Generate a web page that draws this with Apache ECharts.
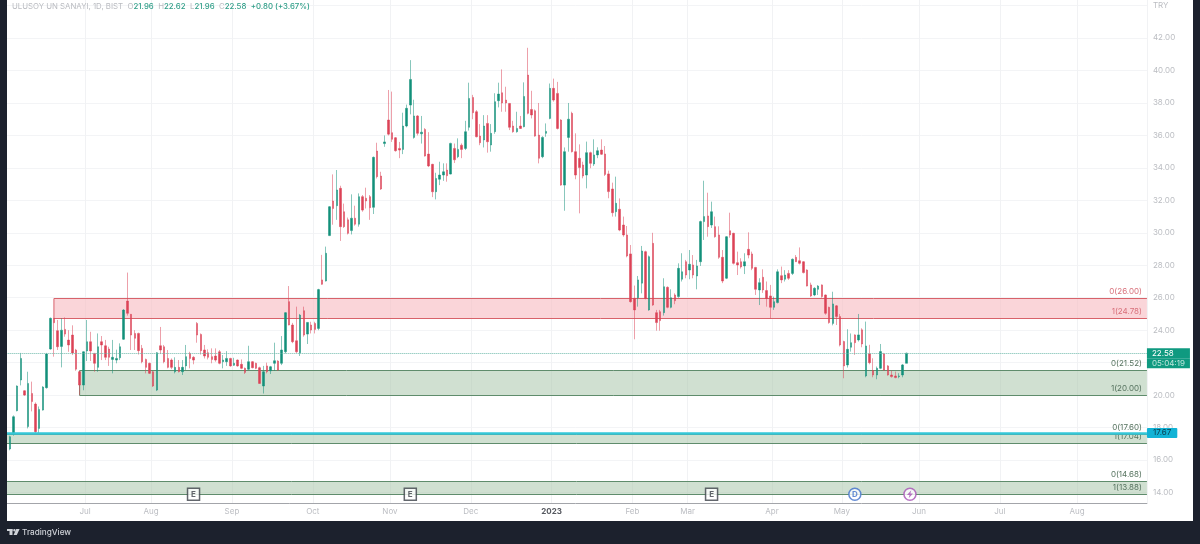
<!DOCTYPE html>
<html>
<head>
<meta charset="utf-8">
<title>ULUSOY UN SANAYI</title>
<script src="https://cdn.jsdelivr.net/npm/echarts@6/dist/echarts.min.js"></script>
<style>
  html, body { margin: 0; padding: 0; background: #1c212d; }
  #panel { position: absolute; left: 7px; top: 0; width: 1186px; height: 521px; background: #fff; }
  #chart { position: absolute; left: 0; top: 0; width: 1200px; height: 544px; filter: blur(0.3px); }
</style>
</head>
<body>
<div id="panel"></div>
<div id="chart"></div>
<script>
// daily bars, ten per line
const opens = [
  16.68, 17.6, 19.04, 20.93, 20.27, 18.06, 20.1, 19.45, 17.95, 19.08,
  20.46, 22.84, 24.73, 23.97, 23.0, 24.05, 23.39, 23.7, 22.78, 21.44,
  20.62, 22.72, 23.29, 22.57, 21.71, 23.29, 23.04, 22.84, 22.2, 22.16,
  22.3, 23.44, 25.8, 24.98, 23.8, 23.8, 22.88, 22.2, 21.96, 21.44,
  20.31, 23.04, 22.98, 22.26, 22.16, 21.44, 21.71, 21.44, 21.8, 22.57,
  22.33, 24.42, 23.74, 22.78, 22.61, 22.37, 22.41, 22.67, 22.06, 22.06,
  22.26, 21.84, 22.16, 21.9, 21.65, 21.59, 22.06, 21.96, 21.69, 20.56,
  21.8, 21.5, 21.96, 22.1, 21.96, 22.67, 25.76, 24.32, 23.35, 22.61,
  25.2, 23.76, 24.32, 24.42, 24.11, 27.1, 27.03, 29.83, 31.96, 31.67,
  32.74, 31.3, 30.8, 30.14, 30.9, 30.53, 32.23, 32.13, 32.23, 31.57,
  35.04, 33.5, 35.5, 36.95, 36.17, 35.86, 35.2, 35.14, 36.58, 37.87,
  35.88, 37.2, 36.1, 36.37, 34.85, 34.22, 32.53, 33.3, 33.56, 33.87,
  33.62, 35.2, 34.69, 35.4, 35.2, 36.5, 38.34, 37.46, 35.96, 35.72,
  36.74, 35.41, 36.23, 38.14, 38.63, 38.18, 37.97, 36.58, 36.23, 36.58,
  36.54, 39.72, 37.6, 37.52, 36.02, 34.69, 36.13, 37.05, 38.9, 38.59,
  36.95, 32.94, 35.88, 37.36, 35.0, 34.59, 34.18, 33.56, 34.94, 34.24,
  34.8, 35.1, 34.86, 33.63, 32.7, 31.3, 31.45, 30.48, 29.87, 28.7,
  25.96, 26.0, 26.9, 28.84, 25.25, 29.35, 25.08, 25.14, 25.08, 26.64,
  25.41, 26.17, 26.07, 27.14, 28.22, 27.71, 28.02, 27.34, 28.22, 30.69,
  31.04, 30.48, 30.38, 29.87, 28.49, 27.2, 30.13, 29.97, 28.16, 28.22,
  27.96, 28.98, 28.7, 27.87, 26.48, 27.26, 26.44, 26.11, 25.41, 25.7,
  27.36, 27.14, 27.5, 27.5, 28.49, 28.28, 28.22, 27.71, 26.79, 26.17,
  26.52, 26.79, 26.17, 25.41, 24.42, 25.5, 24.84, 23.3, 21.86, 22.95,
  23.71, 23.4, 24.02, 21.18, 22.54, 21.51, 21.24, 21.65, 22.54, 21.8,
  21.24, 21.18, 21.14, 21.24, 21.96
];
const closes = [
  17.44, 18.67, 20.56, 22.26, 20.0, 20.72, 19.6, 17.75, 19.12, 20.5,
  22.53, 24.73, 24.46, 22.98, 24.0, 23.76, 23.09, 22.6, 21.6, 20.62,
  22.67, 23.29, 22.72, 21.96, 22.98, 23.09, 22.33, 22.33, 22.33, 22.26,
  22.98, 25.24, 25.04, 23.7, 23.5, 22.74, 22.06, 21.71, 21.34, 20.56,
  22.61, 22.78, 22.06, 21.71, 21.71, 21.71, 21.44, 21.71, 22.37, 22.26,
  22.16, 23.7, 22.74, 22.41, 22.33, 22.2, 22.16, 21.96, 22.16, 22.26,
  21.8, 21.96, 21.8, 21.65, 21.4, 22.06, 21.69, 21.65, 20.72, 21.44,
  21.44, 21.75, 22.12, 21.55, 22.78, 25.08, 24.32, 23.29, 22.67, 24.93,
  23.7, 24.48, 24.01, 24.05, 26.5, 26.83, 28.74, 31.61, 31.5, 32.64,
  30.38, 30.38, 29.97, 30.9, 30.53, 32.23, 31.4, 31.96, 31.55, 34.65,
  33.46, 32.7, 35.6, 36.08, 35.76, 35.06, 35.1, 36.58, 37.67, 39.45,
  37.2, 36.13, 36.2, 34.73, 34.12, 32.53, 33.35, 33.56, 33.76, 33.52,
  35.51, 34.5, 35.14, 35.14, 36.23, 38.28, 37.4, 35.92, 35.55, 36.58,
  35.61, 36.13, 38.08, 38.55, 38.0, 38.0, 36.5, 36.23, 36.43, 36.43,
  38.4, 37.36, 37.26, 35.96, 34.59, 35.88, 36.25, 38.9, 38.18, 36.43,
  32.94, 35.0, 37.0, 35.0, 33.56, 34.02, 33.5, 34.94, 34.28, 34.8,
  35.06, 34.84, 33.6, 32.54, 31.24, 31.82, 30.17, 29.87, 28.57, 25.76,
  25.25, 27.1, 28.88, 25.96, 28.53, 25.55, 24.47, 24.59, 26.68, 25.41,
  26.0, 25.82, 27.81, 27.6, 27.4, 28.06, 27.4, 27.96, 30.69, 31.0,
  30.38, 31.3, 29.76, 28.49, 27.03, 29.76, 29.87, 28.12, 28.02, 27.9,
  28.22, 28.63, 27.81, 26.52, 26.93, 26.48, 25.96, 25.41, 25.76, 27.6,
  27.1, 27.4, 27.2, 28.37, 28.22, 28.12, 27.55, 26.72, 26.11, 26.58,
  26.72, 26.07, 25.04, 24.47, 25.62, 24.84, 23.09, 21.8, 22.82, 23.23,
  23.23, 23.71, 23.15, 23.03, 22.0, 21.24, 21.65, 22.68, 21.55, 21.24,
  21.14, 21.08, 21.18, 21.86, 22.58
];
const lows = [
  16.6, 17.5, 19.0, 20.6, 19.95, 17.95, 19.0, 17.65, 17.65, 19.05,
  20.4, 22.8, 22.37, 22.78, 21.71, 23.6, 22.67, 22.47, 21.5, 20.0,
  20.3, 22.1, 22.1, 21.44, 21.44, 22.16, 22.16, 21.8, 21.34, 21.96,
  22.16, 23.4, 24.9, 22.78, 22.78, 22.5, 21.96, 21.34, 21.3, 20.5,
  20.25, 22.53, 21.96, 21.65, 21.6, 21.34, 21.4, 21.24, 21.55, 21.65,
  21.9, 23.23, 22.5, 22.26, 22.2, 21.96, 22.06, 21.9, 21.65, 21.8,
  21.75, 21.8, 21.75, 21.6, 21.3, 21.55, 21.65, 21.6, 20.7, 20.1,
  21.34, 21.3, 21.5, 21.5, 21.85, 22.57, 24.3, 23.2, 22.6, 22.41,
  23.6, 23.15, 23.8, 23.8, 24.0, 26.8, 27.0, 29.8, 30.5, 30.8,
  29.5, 30.3, 29.9, 29.9, 30.44, 30.38, 31.3, 31.5, 30.8, 31.16,
  33.35, 32.64, 35.3, 36.0, 35.6, 35.0, 34.6, 34.85, 36.5, 37.3,
  35.8, 36.0, 35.5, 34.7, 34.05, 32.2, 32.06, 32.94, 33.2, 33.15,
  33.6, 34.3, 34.6, 34.6, 35.1, 36.3, 37.0, 35.88, 35.4, 35.26,
  34.94, 35.0, 36.1, 37.73, 37.46, 37.46, 36.33, 36.17, 36.17, 36.4,
  36.5, 37.3, 37.05, 35.92, 34.28, 34.6, 35.92, 37.0, 38.08, 36.37,
  32.9, 31.36, 35.0, 34.95, 33.3, 31.2, 33.36, 32.74, 33.98, 34.12,
  34.6, 34.8, 33.5, 32.13, 31.0, 31.0, 30.1, 29.76, 28.49, 25.7,
  23.44, 25.45, 26.27, 25.9, 25.2, 25.5, 23.97, 23.97, 24.9, 25.35,
  25.35, 25.6, 26.0, 27.0, 27.2, 27.14, 27.2, 26.52, 27.96, 29.56,
  29.76, 30.3, 29.7, 28.4, 26.9, 27.15, 29.7, 28.05, 27.4, 27.8,
  27.46, 28.43, 27.7, 26.17, 25.55, 26.3, 25.45, 24.73, 25.25, 25.65,
  26.9, 27.0, 27.1, 27.4, 28.2, 28.05, 27.5, 26.7, 26.05, 26.1,
  26.17, 26.0, 24.95, 24.4, 24.3, 24.32, 23.0, 21.04, 21.7, 22.68,
  22.48, 23.3, 22.95, 21.1, 21.9, 21.1, 20.98, 21.6, 21.5, 21.2,
  21.08, 21.04, 21.04, 21.1, 21.96
];
const highs = [
  17.5, 18.75, 20.6, 22.6, 20.3, 21.44, 20.83, 19.55, 19.3, 20.55,
  22.6, 24.78, 24.75, 24.63, 24.73, 24.79, 24.0, 24.3, 22.85, 21.5,
  22.7, 24.63, 23.9, 22.6, 23.8, 23.64, 23.4, 22.98, 23.4, 22.8,
  23.19, 25.3, 27.55, 25.0, 24.0, 23.85, 23.09, 22.25, 22.0, 21.5,
  22.65, 24.2, 23.09, 22.78, 22.26, 22.33, 22.16, 22.16, 23.09, 22.67,
  22.4, 24.5, 23.8, 23.09, 22.82, 22.88, 22.88, 22.78, 22.47, 22.71,
  22.3, 22.3, 22.2, 22.2, 21.7, 23.04, 22.1, 22.0, 21.75, 21.8,
  22.0, 21.8, 23.23, 22.15, 23.64, 25.12, 26.72, 24.45, 25.45, 25.0,
  25.45, 24.5, 24.52, 24.52, 26.55, 28.64, 29.15, 31.65, 33.6, 33.87,
  32.9, 31.8, 30.94, 32.37, 31.67, 32.43, 32.33, 32.78, 32.33, 34.7,
  35.55, 33.76, 36.0, 38.8, 38.7, 35.9, 35.6, 37.4, 37.9, 40.64,
  38.2, 37.25, 37.2, 36.45, 36.2, 34.25, 33.7, 34.38, 34.28, 34.28,
  35.55, 35.5, 35.82, 35.51, 36.9, 39.25, 38.5, 37.56, 36.7, 37.25,
  37.25, 36.7, 38.6, 39.25, 40.07, 39.0, 38.0, 36.9, 37.46, 37.2,
  39.27, 41.4, 38.75, 37.6, 38.0, 35.95, 36.74, 39.2, 39.5, 39.3,
  37.0, 35.26, 38.0, 37.46, 36.13, 35.45, 34.38, 35.62, 35.0, 35.76,
  35.27, 35.76, 35.35, 33.83, 33.09, 33.46, 32.12, 31.0, 30.42, 29.25,
  26.75, 27.34, 29.19, 28.9, 28.6, 30.0, 25.25, 25.25, 27.2, 26.7,
  26.52, 26.27, 28.12, 28.74, 28.33, 28.94, 28.63, 28.33, 30.75, 33.21,
  32.47, 31.92, 31.0, 30.4, 28.94, 29.8, 31.24, 30.0, 28.84, 28.43,
  28.74, 30.03, 28.84, 27.9, 27.2, 27.75, 27.0, 26.79, 26.07, 27.75,
  27.92, 27.7, 27.7, 28.42, 28.63, 29.1, 28.25, 27.75, 26.93, 26.65,
  26.78, 26.82, 26.2, 25.45, 26.37, 25.55, 25.0, 23.35, 24.06, 23.8,
  23.75, 25.0, 24.12, 24.53, 23.1, 22.27, 21.76, 23.15, 22.6, 21.85,
  21.51, 21.45, 21.35, 21.92, 22.62
];

const priceTicks = [14, 16, 18, 20, 22, 24, 26, 28, 30, 32, 34, 36, 38, 40, 42, 44];
const monthNames = ['Jul', 'Aug', 'Sep', 'Oct', 'Nov', 'Dec', '2023', 'Feb', 'Mar', 'Apr', 'May', 'Jun', 'Jul', 'Aug'];
const monthBars = [22, 40, 62, 84, 105, 127, 149, 171, 186, 209, 228, 249, 271, 292];
const barSlots = 311; // slot 0 stays empty, room for the future bars on the right

// start slot, top price, bottom price, red or green
const zoneStart = [13, 20, 0, 0];
const zoneTop = [26, 21.52, 17.6, 14.68];
const zoneBottom = [24.78, 20, 17.04, 13.88];
const zoneKind = [0, 1, 1, 1];

const lastPrice = 22.58;
const linePrice = 17.67;

const eventSlots = [51, 110, 192, 231, 246];
const eventTexts = ['E', 'E', 'E', 'D', ''];
const eventPrice = 13.89;

const FONT = 'Inter, Roboto, "Noto Sans", sans-serif';
const UP = '#12907a';
const DOWN = '#dc4256';
const zoneFill = ['rgba(247, 190, 196, 0.65)', 'rgba(170, 198, 172, 0.55)'];
const zoneLine = ['#d8626a', '#5f8c6c'];
const zoneText = ['#d8707a', '#56735f'];
const eventColor = ['#3c4149', '#3c4149', '#3c4149', '#3f6fc9', '#a651b5'];

const categories = [];
for (let i = 0; i < barSlots; i++) categories.push('bar ' + i);

const candles = opens.map((o, i) => [o, closes[i], lows[i], highs[i]]);
candles.unshift('-');

const chart = echarts.init(document.getElementById('chart'));

function renderZone(params, api) {
  const grid = params.coordSys;
  const k = api.value(3);
  const left = api.coord([api.value(0), api.value(1)])[0];
  const right = grid.x + grid.width;
  const top = Math.round(api.coord([0, api.value(1)])[1]) + 0.5;
  const bottom = Math.round(api.coord([0, api.value(2)])[1]) + 0.5;
  const stroke = { stroke: zoneLine[k], lineWidth: 1 };
  const font = '8px ' + FONT;
  return {
    type: 'group',
    children: [
      { type: 'rect', shape: { x: left, y: top, width: right - left, height: bottom - top }, style: { fill: zoneFill[k] } },
      { type: 'line', shape: { x1: left, y1: top, x2: right, y2: top }, style: stroke },
      { type: 'line', shape: { x1: left, y1: bottom, x2: right, y2: bottom }, style: stroke },
      { type: 'line', shape: { x1: left, y1: top, x2: left, y2: bottom }, style: stroke },
      { type: 'text', style: { text: '0(' + api.value(1).toFixed(2) + ')', x: right - 5, y: top - 6.5, align: 'right', verticalAlign: 'middle', fill: zoneText[k], font: font } },
      { type: 'text', style: { text: '1(' + api.value(2).toFixed(2) + ')', x: right - 5, y: bottom - 6.5, align: 'right', verticalAlign: 'middle', fill: zoneText[k], font: font } }
    ]
  };
}

const option = {
  animation: false,
  textStyle: { fontFamily: FONT },
  grid: { left: 4.33, top: 0, width: 1142.6, height: 503 },
  xAxis: {
    type: 'category',
    data: categories,
    axisLine: { lineStyle: { color: '#a3a5aa', width: 1 } },
    axisTick: { show: false },
    splitLine: {
      show: true,
      interval: (index) => monthBars.includes(index),
      lineStyle: { color: '#f1f2f4' }
    },
    axisLabel: {
      interval: (index) => monthBars.includes(index),
      margin: 5,
      hideOverlap: false,
      formatter: (value, index) => {
        const name = monthNames[monthBars.indexOf(index)] || '';
        return name === '2023' ? '{year|2023}' : '{month|' + name + '}';
      },
      rich: {
        month: { color: '#bbbdc2', fontFamily: FONT, fontSize: 8, padding: [0, 4, 0, 0] },
        year: { color: '#55585f', fontFamily: FONT, fontSize: 8, fontWeight: 700, padding: [0, 4, 0, 0] }
      }
    }
  },
  yAxis: {
    type: 'value',
    position: 'right',
    min: 13.353,
    max: 44.345,
    axisLine: { show: false },
    axisTick: { show: false, customValues: priceTicks },
    splitLine: { show: true, lineStyle: { color: '#f3f4f6' } },
    axisLabel: {
      customValues: priceTicks,
      margin: 6,
      color: '#bbbdc2',
      fontFamily: FONT,
      fontSize: 8,
      formatter: (v) => (v === 44 ? 'TRY' : v.toFixed(2))
    }
  },
  series: [
    {
      type: 'custom',
      name: 'zones',
      z: 1,
      clip: false,
      silent: true,
      renderItem: renderZone,
      encode: { x: 0, y: [1, 2] },
      data: zoneStart.map((s, i) => [s, zoneTop[i], zoneBottom[i], zoneKind[i]])
    },
    {
      type: 'candlestick',
      name: 'ULUSOY UN SANAYI',
      z: 3,
      barWidth: 2,
      itemStyle: {
        color: UP,
        color0: DOWN,
        borderColor: 'rgba(18, 144, 122, 0.5)',
        borderColor0: 'rgba(220, 66, 86, 0.5)',
        borderWidth: 1
      },
      data: candles,
      markLine: {
        silent: true,
        symbol: 'none',
        animation: false,
        data: [
          {
            yAxis: lastPrice,
            lineStyle: { type: 'dotted', color: '#6db9aa', width: 1 },
            label: {
              show: true,
              position: 'end',
              distance: 0,
              // the blank first line keeps the price row on the line
              formatter: '{e| }\n{p|22.58}\n{t|05:04:19}',
              rich: {
                e: { height: 10, lineHeight: 10, fontSize: 8 },
                p: { color: '#fff', fontFamily: FONT, fontSize: 8, lineHeight: 10, height: 10, width: 38, padding: [0, 0, 0, 5], backgroundColor: '#0f9a80' },
                t: { color: '#bfe6dc', fontFamily: FONT, fontSize: 8, lineHeight: 10, height: 10, width: 38, padding: [0, 0, 0, 5], backgroundColor: '#0f9a80' }
              }
            }
          },
          {
            yAxis: linePrice,
            lineStyle: { type: 'solid', color: '#35c7d8', width: 2.5 },
            label: {
              show: true,
              position: 'end',
              distance: 0,
              formatter: '17.67',
              color: '#0b3a4a',
              fontFamily: FONT,
              fontSize: 8,
              lineHeight: 10,
              backgroundColor: '#12b3d6',
              padding: [0, 6, 0, 6],
              borderRadius: 1
            }
          }
        ]
      }
    },
    {
      type: 'scatter',
      name: 'events',
      z: 5,
      silent: true,
      symbolSize: 12,
      data: eventSlots.map((s, i) => ({
        value: [s, eventPrice],
        symbol: i < 3 ? 'rect' : 'circle',
        itemStyle: { color: '#fff', borderColor: eventColor[i], borderWidth: 1.5 },
        label: {
          show: eventTexts[i] !== '',
          position: 'inside',
          formatter: eventTexts[i],
          color: eventColor[i],
          fontFamily: FONT,
          fontSize: 8,
          fontWeight: 700
        }
      }))
    },
    {
      type: 'scatter',
      name: 'bolt',
      z: 6,
      silent: true,
      symbol: 'path://M5 0L0 6H3L2 10L7 4H4Z',
      symbolSize: [6, 8],
      itemStyle: { color: eventColor[4] },
      data: [[eventSlots[4], eventPrice]]
    }
  ],
  graphic: [
    // the left edge of the frame, over the zones that run off the pane
    { type: 'rect', z: 100, silent: true, shape: { x: 0, y: 0, width: 7, height: 521 }, style: { fill: '#1c212d' } },
    {
      type: 'text', z: 100, silent: true, x: 12, y: 7,
      style: {
        text: '{n|ULUSOY UN SANAYI, 1D, BIST}{s| }{n|O}{g|21.96}{s| }{n|H}{g|22.62}{s| }{n|L}{g|21.96}{s| }{n|C}{g|22.58}{s| }{g|+0.80 (+3.67%)}',
        verticalAlign: 'middle',
        rich: {
          n: { fill: '#babcc1', font: '7.8px ' + FONT },
          g: { fill: '#2f9e88', font: '500 7.8px ' + FONT },
          s: { width: 4.5, font: '7.8px ' + FONT }
        }
      }
    },
    // logo bottom left
    { type: 'rect', z: 100, silent: true, shape: { x: 7, y: 529, width: 5.5, height: 2 }, style: { fill: '#cfd2d8' } },
    { type: 'rect', z: 100, silent: true, shape: { x: 9.5, y: 529, width: 3, height: 6 }, style: { fill: '#cfd2d8' } },
    { type: 'circle', z: 100, silent: true, shape: { cx: 14.4, cy: 530.2, r: 1.2 }, style: { fill: '#cfd2d8' } },
    { type: 'polygon', z: 100, silent: true, shape: { points: [[16.2, 529], [19.6, 529], [16.8, 535], [13.6, 535]] }, style: { fill: '#cfd2d8' } },
    {
      type: 'text', z: 100, silent: true, x: 22, y: 533,
      style: { text: 'TradingView', fill: '#cfd2d8', font: '500 8.2px ' + FONT, verticalAlign: 'middle' }
    }
  ]
};

chart.setOption(option);
</script>
</body>
</html>
